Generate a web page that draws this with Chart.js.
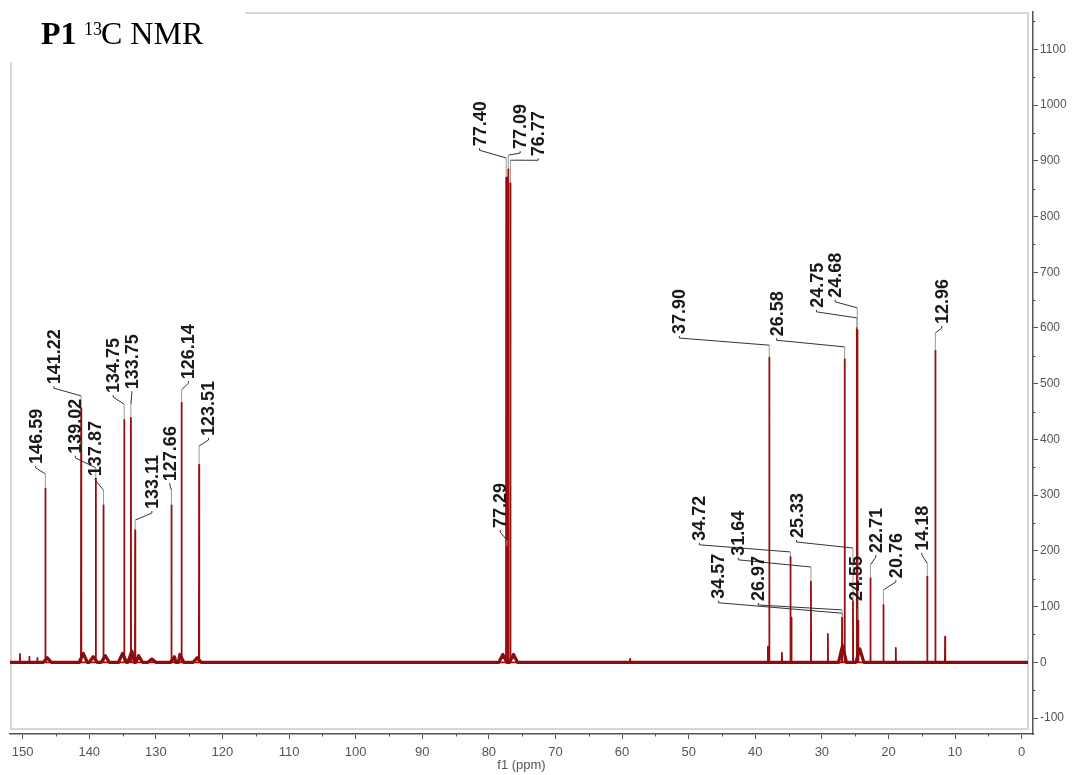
<!DOCTYPE html>
<html>
<head>
<meta charset="utf-8">
<title>P1 13C NMR</title>
<script src="https://cdn.jsdelivr.net/npm/chart.js@4.4.1/dist/chart.umd.min.js"></script>
<style>
  html, body { margin: 0; padding: 0; background: #fff; }
  #wrap { width: 1072px; height: 775px; }
</style>
</head>
<body>
<div id="wrap"><canvas id="nmr" width="1072" height="775"></canvas></div>
<script>
// labelled signals, ppm and height
var peakPpm = [146.59, 141.22, 139.02, 137.87, 134.75, 133.75, 133.11, 127.66, 126.14, 123.51,
               77.40, 77.29, 77.09, 76.77,
               37.90, 34.72, 34.57, 31.64, 26.97, 26.58, 25.33, 24.75, 24.68, 24.55,
               22.71, 20.76, 14.18, 12.96];
var peakHeight = [312, 456, 330, 282, 435, 439, 237, 282, 466, 354,
                  870, 207, 885, 860,
                  547, 189, 80, 145, 80, 544, 110, 600, 596, 75,
                  151, 103, 154, 559];

// small lines that carry no label
var minorPpm = [150.4, 149.0, 147.8, 58.8, 38.1, 36.0, 29.1, 18.9, 11.5];
var minorHeight = [15, 10, 8, 6, 28, 17, 51, 26, 46];

// broad humps in the baseline at the foot of the peaks
var humpPpm = [146.3, 140.9, 139.4, 137.6, 135.0, 133.6, 132.6, 130.6, 127.2, 126.4, 123.8,
               77.9, 76.3, 26.9, 24.3];
var humpHeight = [8, 16, 10, 12, 16, 20, 12, 6, 10, 14, 8, 14, 14, 30, 24];

// spectral window
var specStart = 151.9;
var specEnd = -0.95;

// axis ticks
var xTickValues = [150, 140, 130, 120, 110, 100, 90, 80, 70, 60, 50, 40, 30, 20, 10, 0];
var yTickValues = [-100, 0, 100, 200, 300, 400, 500, 600, 700, 800, 900, 1000, 1100];

// where each peak label sits: [text ppm, text bottom level, elbow level, tip ppm (optional)]
var labelLayout = [
  [148.05, 356, 338], [145.3, 499, 478], [142.1, 374, 349], [139.1, 334, 309],
  [136.4, 483, 463], [133.6, 490, 463], [130.6, 275, 255], [127.9, 325, 309],
  [125.1, 508, 489], [122.1, 406, 388],
  [81.4, 926, 905], [78.3, 241, 219], [75.3, 921, 910], [72.6, 908, 901],
  [51.4, 589, 569], [48.4, 218, 198], [45.55, 114, 88, 26.9], [42.55, 191, 171],
  [39.55, 110, 94], [36.8, 585, 566], [33.8, 223, 205], [30.8, 636, 618],
  [28.0, 654, 636], [24.8, 110, 97],
  [21.9, 196, 175], [18.9, 151, 130], [15.0, 200, 178], [12.0, 607, 591]
];

function buildSpectrum() {
  var pts = [{x: specStart, y: 0}, {x: specEnd, y: 0}];
  function addLine(p, h) {
    pts.push({x: p + 0.03, y: 0}, {x: p, y: h}, {x: p - 0.03, y: 0});
  }
  peakPpm.forEach(function (p, i) { addLine(p, peakHeight[i]); });
  minorPpm.forEach(function (p, i) { addLine(p, minorHeight[i]); });
  pts.sort(function (a, b) { return b.x - a.x; });
  return pts;
}

function buildBaseline() {
  var pts = [{x: specStart, y: 0}, {x: specEnd, y: 0}];
  humpPpm.forEach(function (p, i) {
    pts.push({x: p + 0.6, y: 0}, {x: p, y: humpHeight[i]}, {x: p - 0.6, y: 0});
  });
  pts.sort(function (a, b) { return b.x - a.x; });
  return pts;
}

var axisFont = {family: '"Liberation Sans", Arial, sans-serif', size: 13};
var axisColor = '#555';

var decorations = {
  id: 'decorations',
  beforeDatasetsDraw: function (chart) {
    var ctx = chart.ctx, a = chart.chartArea;
    ctx.save();
    ctx.strokeStyle = '#d6d6d6';
    ctx.lineWidth = 2;
    ctx.strokeRect(a.left + 1, a.top + 1, a.right - a.left - 6, a.bottom - a.top - 6);
    ctx.restore();
  },
  afterDatasetsDraw: function (chart) {
    var ctx = chart.ctx, xs = chart.scales.x, ys = chart.scales.y, a = chart.chartArea;
    ctx.save();

    // minor ticks
    ctx.strokeStyle = axisColor;
    ctx.lineWidth = 1;
    ctx.beginPath();
    for (var i = 0; i < xTickValues.length - 1; i++) {
      var mx = Math.round(xs.getPixelForValue((xTickValues[i] + xTickValues[i + 1]) / 2)) + 0.5;
      ctx.moveTo(mx, a.bottom); ctx.lineTo(mx, a.bottom + 2.5);
    }
    var ymin = yTickValues.slice();
    ymin.push(1200);
    for (var j = 0; j < ymin.length - 1; j++) {
      var my = Math.round(ys.getPixelForValue((ymin[j] + ymin[j + 1]) / 2)) + 0.5;
      if (my < a.top) continue;
      ctx.moveTo(a.right, my); ctx.lineTo(a.right + 2.5, my);
    }
    ctx.stroke();

    // peak labels with leaders
    ctx.font = 'bold 18px "Liberation Sans", Arial, sans-serif';
    ctx.fillStyle = '#1a1a1a';
    ctx.textAlign = 'left';
    ctx.textBaseline = 'middle';
    peakPpm.forEach(function (p, k) {
      var lay = labelLayout[k];
      var lx = xs.getPixelForValue(lay[0]);
      var ly = ys.getPixelForValue(lay[1]);
      var ey = ys.getPixelForValue(lay[2]);
      var tipPpm = lay.length > 3 ? lay[3] : p;
      var tx = xs.getPixelForValue(tipPpm);
      var ty = ys.getPixelForValue(lay.length > 3 ? 80 : peakHeight[k]);

      ctx.strokeStyle = '#333';
      ctx.lineWidth = 1;
      ctx.beginPath();
      ctx.moveTo(lx, ly + 2);
      ctx.lineTo(lx, ly + 4);
      ctx.lineTo(tx, ey);
      ctx.stroke();
      ctx.strokeStyle = '#9a9a9a';
      ctx.beginPath();
      ctx.moveTo(tx, ey);
      ctx.lineTo(tx, ty - 1);
      ctx.stroke();

      ctx.save();
      ctx.translate(lx, ly);
      ctx.rotate(-Math.PI / 2);
      ctx.fillText(p.toFixed(2), 0, 1);
      ctx.restore();
    });
    ctx.restore();
  },
  afterDraw: function (chart) {
    var ctx = chart.ctx;
    ctx.save();
    ctx.fillStyle = '#fff';
    ctx.fillRect(0, 0, 245, 62);
    ctx.fillStyle = '#000';
    ctx.textBaseline = 'alphabetic';
    ctx.textAlign = 'left';
    ctx.font = 'bold 32px "Liberation Serif", "Times New Roman", serif';
    ctx.fillText('P1', 41, 44);
    ctx.font = '18px "Liberation Serif", "Times New Roman", serif';
    ctx.fillText('13', 84, 35);
    ctx.font = '32px "Liberation Serif", "Times New Roman", serif';
    ctx.fillText('C NMR', 101, 44);
    ctx.restore();
  }
};

var ctx = document.getElementById('nmr');
var nmrChart = new Chart(ctx, {
  type: 'line',
  data: {
    datasets: [{
      label: 'baseline',
      data: buildBaseline(),
      borderColor: '#8a0c0c',
      borderWidth: 3.2,
      borderJoinStyle: 'round',
      pointRadius: 0,
      tension: 0,
      fill: false
    }, {
      label: '13C',
      data: buildSpectrum(),
      borderColor: '#960f0f',
      borderWidth: 1.8,
      borderJoinStyle: 'round',
      pointRadius: 0,
      tension: 0,
      fill: false
    }]
  },
  options: {
    responsive: false,
    animation: false,
    devicePixelRatio: 1,
    layout: {padding: {left: 10, top: 12, right: 0, bottom: 0}},
    plugins: {legend: {display: false}, tooltip: {enabled: false}, title: {display: false}},
    scales: {
      x: {
        type: 'linear',
        reverse: true,
        min: -1.7,
        max: 151.9,
        afterFit: function (s) { s.height = 41; },
        afterBuildTicks: function (s) { s.ticks = xTickValues.map(function (v) { return {value: v}; }); },
        grid: {drawOnChartArea: false, tickLength: 5, tickColor: axisColor, tickWidth: 1},
        border: {color: axisColor, width: 1.5},
        ticks: {autoSkip: false, maxRotation: 0, padding: 6, color: axisColor, font: axisFont,
                callback: function (v) { return String(v); }},
        title: {display: true, text: 'f1 (ppm)', color: axisColor, font: axisFont, padding: {top: 0, bottom: 2}}
      },
      y: {
        type: 'linear',
        position: 'right',
        min: -128.7,
        max: 1166.9,
        afterFit: function (s) { s.width = 39; },
        afterBuildTicks: function (s) { s.ticks = yTickValues.map(function (v) { return {value: v}; }); },
        grid: {drawOnChartArea: false, tickLength: 5, tickColor: axisColor, tickWidth: 1},
        border: {color: axisColor, width: 1.5},
        ticks: {padding: 2, color: axisColor, font: {family: axisFont.family, size: 12},
                callback: function (v) { return String(v); }}
      }
    }
  },
  plugins: [decorations]
});
</script>
</body>
</html>
